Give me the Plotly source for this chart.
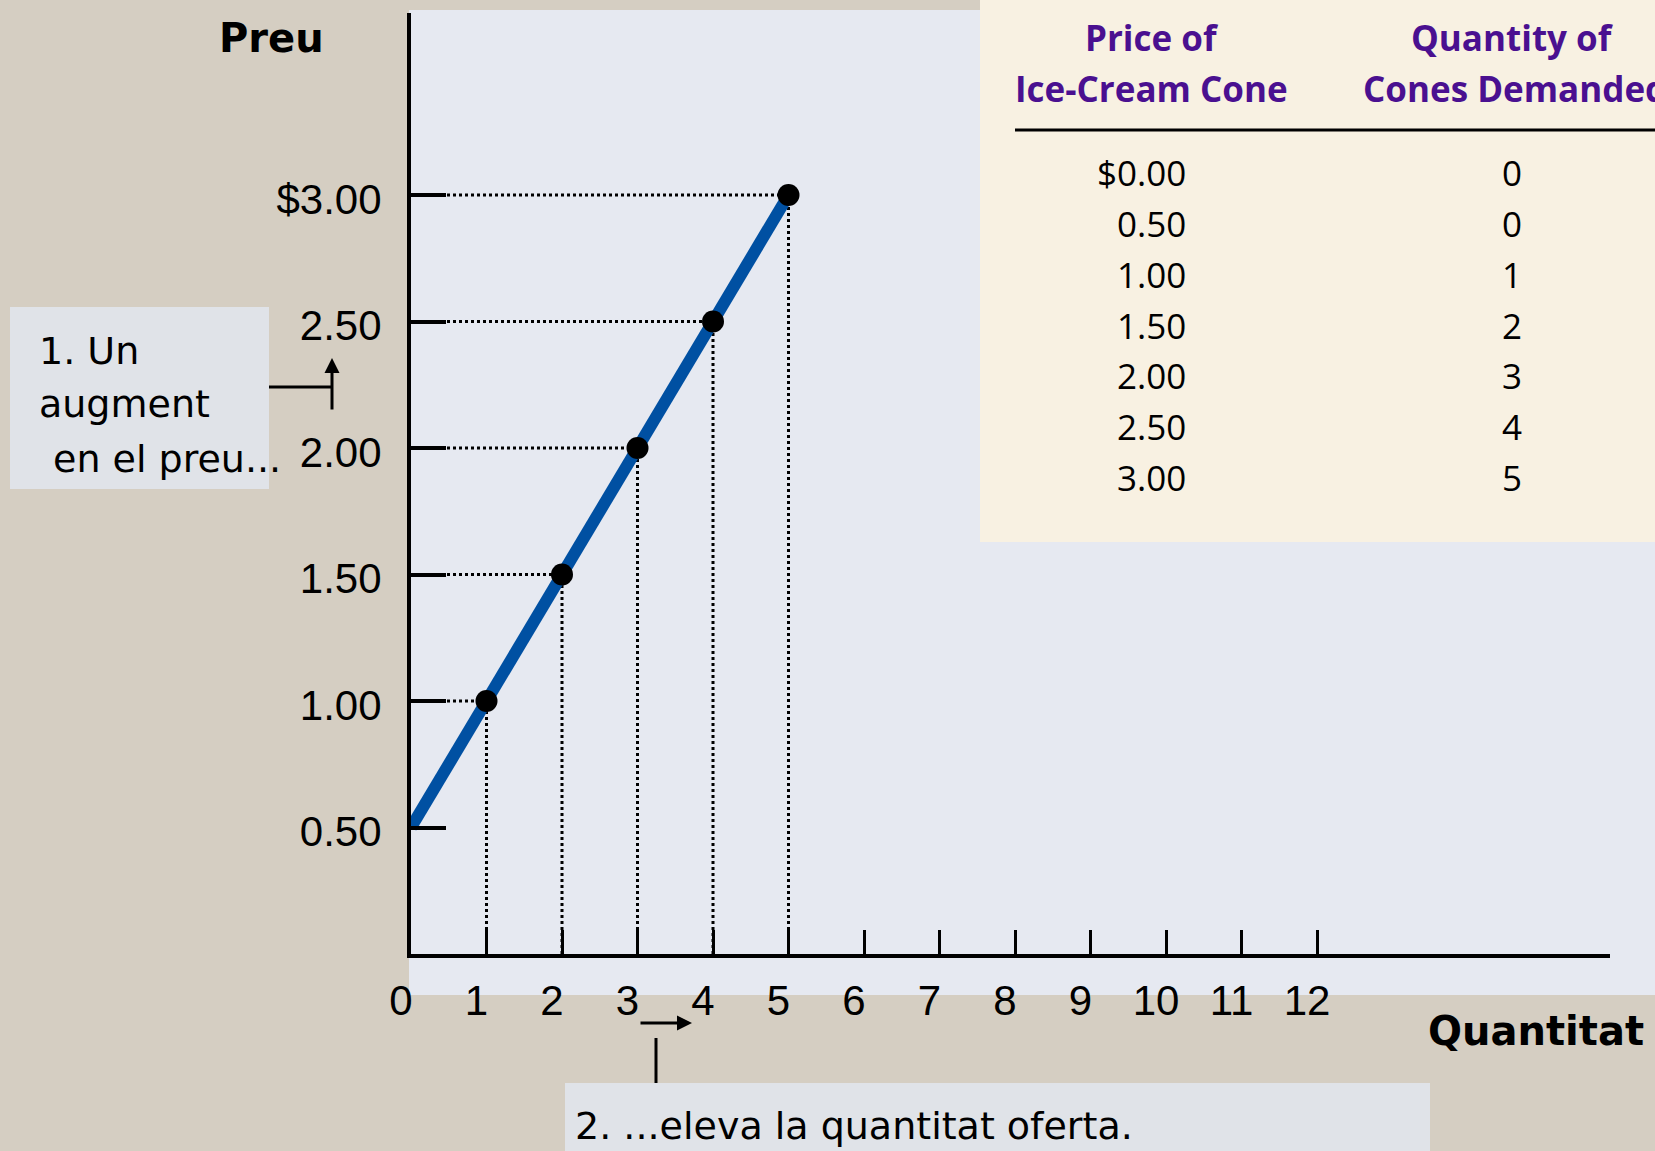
import plotly.graph_objects as go

# table / curve data
price = [0.00, 0.50, 1.00, 1.50, 2.00, 2.50, 3.00]
quantity = [0, 0, 1, 2, 3, 4, 5]

x_ticks = list(range(0, 13))
y_ticks = [0.5, 1.0, 1.5, 2.0, 2.5, 3.0]
y_tick_text = ["0.50", "1.00", "1.50", "2.00", "2.50", "$3.00"]

note1 = ["1. Un", "augment", "en el preu..."]
note2 = "2. ...eleva la quantitat oferta."

# supply curve starts where quantity first becomes 0 at a positive price
curve_q = quantity[1:]
curve_p = price[1:]
dot_q = quantity[2:]
dot_p = price[2:]

W, H = 1655, 1151
L, R, T, B = 411, 45, 13, 197
PW = W - L - R
PH = H - T - B

BEIGE = "#D5CEC2"
PANEL = "#E6E9F1"
CREAM = "#F8F1E2"
NOTE_BG = "#E0E3E8"
BLUE = "#0050A2"
PURPLE = "#4A1090"


def px(x):
    return (x - L) / PW


def py(y):
    return (T + PH - y) / PH


fig = go.Figure()

fig.add_trace(go.Scatter(x=curve_q, y=curve_p, mode="lines",
                         line=dict(color=BLUE, width=12), hoverinfo="skip"))
fig.add_trace(go.Scatter(x=dot_q, y=dot_p, mode="markers",
                         marker=dict(color="black", size=22), hoverinfo="skip"))

shapes = []
# background panels
shapes.append(dict(type="rect", xref="paper", yref="paper", layer="below",
                   x0=px(409), x1=px(W + 10), y0=py(995), y1=py(10),
                   fillcolor=PANEL, line_width=0))
shapes.append(dict(type="rect", xref="paper", yref="paper", layer="below",
                   x0=px(980), x1=px(W + 10), y0=py(542), y1=py(-10),
                   fillcolor=CREAM, line_width=0))
shapes.append(dict(type="rect", xref="paper", yref="paper", layer="below",
                   x0=px(10), x1=px(269), y0=py(489), y1=py(307),
                   fillcolor=NOTE_BG, line_width=0))
shapes.append(dict(type="rect", xref="paper", yref="paper", layer="below",
                   x0=px(565), x1=px(1430), y0=py(H + 10), y1=py(1083),
                   fillcolor=NOTE_BG, line_width=0))
# table rule
shapes.append(dict(type="line", xref="paper", yref="paper",
                   x0=px(1015), x1=px(W + 10), y0=py(130), y1=py(130),
                   line=dict(color="black", width=3)))
# dotted guides
for q, p in zip(dot_q, dot_p):
    shapes.append(dict(type="line", xref="x", yref="y", layer="below",
                       x0=0, x1=q, y0=p, y1=p,
                       line=dict(color="black", width=3, dash="dot")))
    shapes.append(dict(type="line", xref="x", yref="y", layer="below",
                       x0=q, x1=q, y0=0, y1=p,
                       line=dict(color="black", width=3, dash="dot")))
# connector lines for the notes
shapes.append(dict(type="line", xref="paper", yref="paper",
                   x0=px(269), x1=px(332), y0=py(387), y1=py(387),
                   line=dict(color="black", width=3)))
shapes.append(dict(type="line", xref="paper", yref="paper",
                   x0=px(656), x1=px(656), y0=py(1038), y1=py(1083),
                   line=dict(color="black", width=3)))

ann = []
# arrows
ann.append(dict(xref="paper", yref="paper", x=px(332), y=py(358),
                ax=0, ay=53, text="", showarrow=True, arrowhead=2,
                arrowsize=1, arrowwidth=3, arrowcolor="black"))
ann.append(dict(xref="paper", yref="paper", x=px(692), y=py(1023),
                ax=-53, ay=0, text="", showarrow=True, arrowhead=2,
                arrowsize=1, arrowwidth=3, arrowcolor="black"))

txt_font = dict(family="DejaVu Sans", size=38, color="black")
ann.append(dict(xref="paper", yref="paper", x=px(37), y=py(351), text=note1[0],
                showarrow=False, xanchor="left", yanchor="middle", font=txt_font))
ann.append(dict(xref="paper", yref="paper", x=px(37), y=py(404), text=note1[1],
                showarrow=False, xanchor="left", yanchor="middle", font=txt_font))
ann.append(dict(xref="paper", yref="paper", x=px(51), y=py(459), text=note1[2],
                showarrow=False, xanchor="left", yanchor="middle", font=txt_font))
ann.append(dict(xref="paper", yref="paper", x=px(573), y=py(1126), text=note2,
                showarrow=False, xanchor="left", yanchor="middle", font=txt_font))

bold_font = dict(family="DejaVu Sans", size=40, color="black", weight="bold")
ann.append(dict(xref="paper", yref="paper", x=px(271), y=py(38), text="Preu",
                showarrow=False, xanchor="center", yanchor="middle", font=bold_font))
ann.append(dict(xref="paper", yref="paper", x=px(1536), y=py(1031), text="Quantitat",
                showarrow=False, xanchor="center", yanchor="middle", font=bold_font))

# table
head_font = dict(family="Open Sans", size=35, color=PURPLE, weight="bold")
ann.append(dict(xref="paper", yref="paper", x=px(1152), y=py(38), text="Price of",
                showarrow=False, xanchor="center", yanchor="middle", font=head_font))
ann.append(dict(xref="paper", yref="paper", x=px(1151), y=py(88), text="Ice-Cream Cone",
                showarrow=False, xanchor="center", yanchor="middle", font=head_font))
ann.append(dict(xref="paper", yref="paper", x=px(1512), y=py(38), text="Quantity of",
                showarrow=False, xanchor="center", yanchor="middle", font=head_font))
ann.append(dict(xref="paper", yref="paper", x=px(1361), y=py(88), text="Cones Demanded",
                showarrow=False, xanchor="left", yanchor="middle", font=head_font))

row_font = dict(family="Open Sans", size=35, color="black")
for i, (p, q) in enumerate(zip(price, quantity)):
    label = ("$%.2f" if i == 0 else "%.2f") % p
    yy = 172 + 51 * i
    ann.append(dict(xref="paper", yref="paper", x=px(1188), y=py(yy), text=label,
                    showarrow=False, xanchor="right", yanchor="middle", font=row_font))
    ann.append(dict(xref="paper", yref="paper", x=px(1512), y=py(yy), text=str(q),
                    showarrow=False, xanchor="center", yanchor="middle", font=row_font))

tick_font = dict(family="Liberation Sans", size=42, color="black")

fig.update_layout(
    width=W, height=H,
    margin=dict(l=L, r=R, t=T, b=B, pad=0),
    paper_bgcolor=BEIGE,
    plot_bgcolor="rgba(0,0,0,0)",
    showlegend=False,
    shapes=shapes,
    annotations=ann,
    xaxis=dict(range=[0, PW / 75.5], tickvals=x_ticks, ticktext=[str(v) for v in x_ticks],
               ticks="inside", ticklen=24, tickwidth=3, tickcolor="black",
               showline=True, linewidth=4, linecolor="black",
               showgrid=False, zeroline=False, tickfont=tick_font,
               ticklabelshift=-10, ticklabelstandoff=7, fixedrange=True),
    yaxis=dict(range=[0, PH / 253.0], tickvals=y_ticks, ticktext=y_tick_text,
               ticks="inside", ticklen=35, tickwidth=3.5, tickcolor="black",
               showline=True, linewidth=4, linecolor="black",
               showgrid=False, zeroline=False, tickfont=tick_font,
               ticklabelshift=4, ticklabelstandoff=17, fixedrange=True),
)

fig.write_html("out.html", config={"displayModeBar": False},
               post_script="document.body.style.margin='0';")
